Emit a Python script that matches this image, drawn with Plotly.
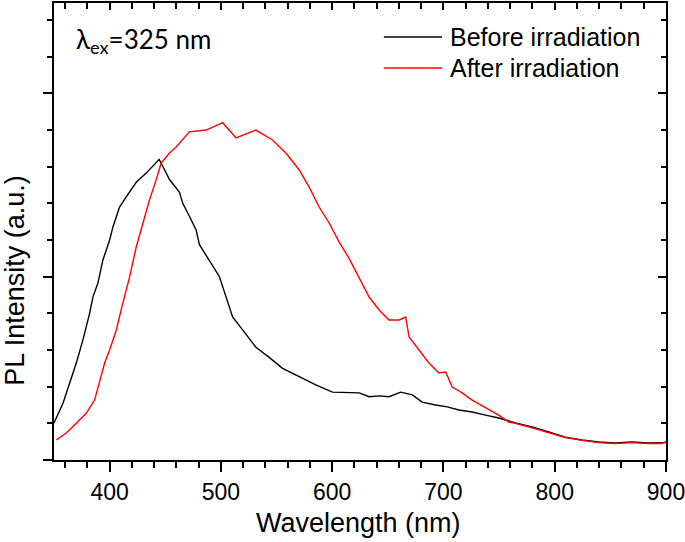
import plotly.graph_objects as go

# Before irradiation (black)
before_x = [350, 350.6, 358.1, 364.1, 370.1, 376.0, 382.0, 385.0, 389.5, 393.9, 400.0, 402.9, 408.9,
            414.9, 423.9, 432.9, 441.8, 444.5, 448.0, 453.8, 462.8, 465.7, 471.7, 477.7, 480.7, 489.7,
            498.7, 504.6, 510.5, 519.5, 531.5, 543.4, 555.4, 570.4, 585.3, 600.2, 612.2, 624.2,
            633.2, 642.2, 651.1, 661.6, 672.0, 680.9, 692.9, 703.4, 713.9, 725.8, 737.8, 749.7,
            764.7, 779.6, 794.6, 809.5, 824.5, 839.4, 854.4, 869.3, 884.3, 896.3, 900]
before_y = [0.20, 0.21, 0.31, 0.42, 0.53, 0.655, 0.80, 0.89, 0.965, 1.09, 1.20, 1.27, 1.38,
            1.435, 1.515, 1.565, 1.62, 1.64, 1.60, 1.53, 1.46, 1.40, 1.33, 1.255, 1.175, 1.09,
            1.00, 0.89, 0.78, 0.71, 0.615, 0.56, 0.50, 0.455, 0.41, 0.37, 0.37, 0.366,
            0.345, 0.35, 0.345, 0.37, 0.355, 0.316, 0.30, 0.29, 0.273, 0.262, 0.245, 0.229,
            0.202, 0.18, 0.153, 0.125, 0.109, 0.098, 0.093, 0.098, 0.093, 0.093, 0.095]

# After irradiation (red)
after_x = [352.2, 361.1, 370.1, 379.1, 386.5, 391.0, 395.5, 400.0, 406.0, 411.9, 417.9, 423.9,
           429.8, 435.8, 441.8, 446.3, 453.8, 459.8, 471.7, 486.7, 501.6, 513.6, 531.5, 546.4,
           558.4, 570.4, 579.3, 588.3, 597.3, 606.2, 615.2, 624.2, 633.2, 642.2, 651.1, 660.1,
           666.1, 669.1, 678.0, 687.0, 696.0, 702.0, 707.9, 716.9, 725.8, 737.8, 749.7, 758.7,
           764.7, 779.6, 794.6, 809.5, 824.5, 839.4, 854.4, 869.3, 884.3, 896.3, 900]
after_y = [0.11, 0.147, 0.20, 0.256, 0.327, 0.436, 0.529, 0.60, 0.709, 0.857, 0.998, 1.162,
           1.293, 1.418, 1.528, 1.62, 1.675, 1.708, 1.79, 1.80, 1.84, 1.757, 1.80, 1.746,
           1.675, 1.582, 1.489, 1.38, 1.293, 1.19, 1.10, 0.998, 0.889, 0.818, 0.764, 0.764,
           0.78, 0.671, 0.60, 0.529, 0.475, 0.48, 0.398, 0.366, 0.327, 0.284, 0.245, 0.207,
           0.20, 0.175, 0.15, 0.122, 0.107, 0.095, 0.09, 0.095, 0.09, 0.09, 0.10]

x_ticks = [400, 500, 600, 700, 800, 900]
legend_names = ["Before irradiation", "After irradiation"]
colors = ["black", "red"]

FONT = "Liberation Sans"

fig = go.Figure()
fig.add_trace(go.Scatter(x=before_x, y=before_y, mode="lines",
                         line=dict(color=colors[0], width=1.4), showlegend=False))
fig.add_trace(go.Scatter(x=after_x, y=after_y, mode="lines",
                         line=dict(color=colors[1], width=1.4), showlegend=False))
# dummy trace to anchor the mirrored axes
fig.add_trace(go.Scatter(x=[], y=[], xaxis="x2", yaxis="y2", showlegend=False, hoverinfo="skip"))

yr = [0, 2.493]
fig.update_layout(
    width=685, height=542,
    margin=dict(l=54, r=19, t=3, b=82, autoexpand=False),
    paper_bgcolor="white", plot_bgcolor="white",
    font=dict(family=FONT, color="black"),
    xaxis=dict(range=[350, 900], tickvals=x_ticks, ticks="outside", ticklen=10, tickwidth=1.5,
               tickcolor="black", showline=True, linewidth=2, linecolor="black",
               showgrid=False, zeroline=False, automargin=False, ticklabeloverflow="allow",
               tickfont=dict(size=23, family=FONT),
               minor=dict(dtick=20, tick0=400, ticks="outside", ticklen=6, tickwidth=1.5, tickcolor="black")),
    yaxis=dict(range=yr, dtick=1, tick0=0, ticks="outside", ticklen=9, tickwidth=1.5,
               tickcolor="black", showline=True, linewidth=2, linecolor="black",
               showgrid=False, zeroline=False, showticklabels=False, automargin=False,
               minor=dict(dtick=0.2, tick0=0, ticks="outside", ticklen=5, tickwidth=1.5, tickcolor="black")),
    xaxis2=dict(range=[350, 900], overlaying="x", side="top", anchor="y",
                tickvals=x_ticks, ticks="inside", ticklen=7, tickwidth=1.5, tickcolor="black",
                showline=True, linewidth=2, linecolor="black", showgrid=False, zeroline=False,
                showticklabels=False, automargin=False,
                minor=dict(dtick=20, tick0=400, ticks="inside", ticklen=6, tickwidth=1.5, tickcolor="black")),
    yaxis2=dict(range=yr, overlaying="y", side="right", anchor="x",
                dtick=1, tick0=0, ticks="inside", ticklen=8, tickwidth=1.5, tickcolor="black",
                showline=True, linewidth=2, linecolor="black", showgrid=False, zeroline=False,
                showticklabels=False, automargin=False,
                minor=dict(dtick=0.2, tick0=0, ticks="inside", ticklen=5, tickwidth=1.5, tickcolor="black")),
)

# axis titles
fig.add_annotation(xref="paper", yref="paper", x=0.497, y=-0.138, text="Wavelength (nm)",
                   showarrow=False, xanchor="center", yanchor="middle",
                   font=dict(size=27, family=FONT, color="black"))
fig.add_annotation(xref="paper", yref="paper", x=-0.064, y=0.394, text="PL Intensity (a.u.)",
                   showarrow=False, xanchor="center", yanchor="middle", textangle=-90,
                   font=dict(size=27, family=FONT, color="black"))

# manual legend
leg_y = [0.9256, 0.8578]
for name, col, yy in zip(legend_names, colors, leg_y):
    fig.add_shape(type="line", xref="paper", yref="paper", x0=0.539, x1=0.634, y0=yy, y1=yy,
                  line=dict(color=col, width=1.5))
    fig.add_annotation(xref="paper", yref="paper", x=0.644, y=yy, text=name, showarrow=False,
                       xanchor="left", yanchor="middle", font=dict(size=25, family=FONT, color="black"))

fig.add_annotation(xref="paper", yref="paper", x=0.032, y=0.919,
                   text="λ<sub>ex</sub>=325 nm", showarrow=False, xanchor="left", yanchor="middle",
                   font=dict(size=26, family="Lato", color="black"))

fig.write_html("out.html", config={"displayModeBar": False},
               post_script="document.body.style.margin='0';document.body.style.padding='0';")
